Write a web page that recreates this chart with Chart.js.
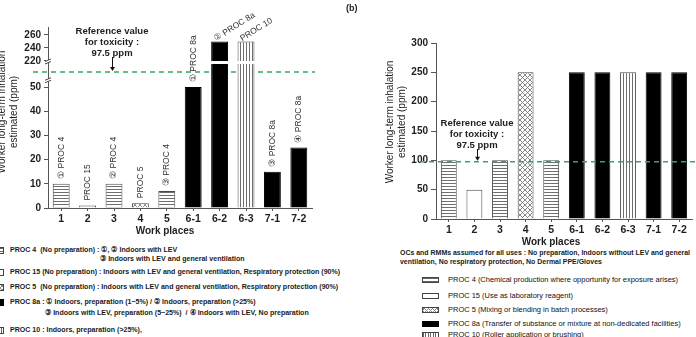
<!DOCTYPE html>
<html>
<head>
<meta charset="utf-8">
<script src="https://cdn.jsdelivr.net/npm/chart.js@4.4.0/dist/chart.umd.min.js"></script>
<style>
  body { margin: 0; width: 696px; height: 337px; overflow: hidden; background: #fff; position: relative;
         font-family: 'Liberation Sans', Arial, sans-serif; }
  canvas { position: absolute; top: 0; }
  #chartA { left: 0; }
  #chartB { left: 350px; }
  .row { position: absolute; white-space: pre; color: #1a1a1a; line-height: 10px; height: 10px; transform-origin: 0 50%; }
  .legA { font-size: 8px; font-weight: bold; }
  .noteB { font-size: 7.5px; font-weight: bold; }
  .legB { font-size: 7.5px; color: #111; }
  .sw { position: absolute; box-sizing: border-box; border: 1px solid #444; background: #fff; }
  .p4 { background: repeating-linear-gradient(to bottom, #666 0 1px, #fff 1px 2.5px); }
  .p15 { background: #fff; }
  .p5 { background-color: #fff;
        background-image: repeating-linear-gradient(45deg, #888 0 0.8px, transparent 0.8px 3px), repeating-linear-gradient(-45deg, #888 0 0.8px, transparent 0.8px 3px); }
  .p8a { background: #000; border-color: #000; }
  .p10 { background: repeating-linear-gradient(to right, #666 0 1px, #fff 1px 2.5px); }
  #tagB { position: absolute; left: 346px; top: 3px; font-size: 9px; font-weight: bold; color: #222; }
</style>
</head>
<body>
<canvas id="chartA" width="350" height="240"></canvas>
<canvas id="chartB" width="346" height="248"></canvas>
<div id="tagB">(b)</div>
<div id="legends"></div>

<script>
// ---- data ----
const categories = ['1', '2', '3', '4', '5', '6-1', '6-2', '6-3', '7-1', '7-2'];
const exposureA = [10, 1, 10, 2, 7, 50, 250, 250, 15, 25];
const exposureB = [100, 50, 100, 250, 100, 250, 250, 250, 250, 250];
const procOfBar = ['p4', 'p15', 'p4', 'p5', 'p4', 'p8a', 'p8a', 'p10', 'p8a', 'p8a'];
const barNotesA = ['① PROC 4', 'PROC 15', '② PROC 4', 'PROC 5', '③ PROC 4',
                   '① PROC 8a', '② PROC 8a', 'PROC 10', '③ PROC 8a', '④ PROC 8a'];
const ticksA = [0, 10, 20, 30, 40, 50, 220, 240, 260];
const ticksB = [0, 50, 100, 150, 200, 250, 300];
const referenceValue = 97.5;
const refText = ['Reference value', 'for toxicity :', '97.5 ppm'];
const yTitle = ['Worker long-term inhalation', 'estimated (ppm)'];
const xTitle = 'Work places';

const legendA = [
  ['p4', 'PROC 4  (No preparation) : ①, ② Indoors with LEV', '③ Indoors with LEV and general ventilation'],
  ['p15', 'PROC 15 (No preparation) : Indoors with LEV and general ventilation, Respiratory protection (90%)'],
  ['p5', 'PROC 5  (No preparation) : Indoors with LEV and general ventilation, Respiratory protection (90%)'],
  ['p8a', 'PROC 8a : ① Indoors, preparation (1~5%) / ② Indoors, preparation (>25%)', '③ Indoors with LEV, preparation (5~25%)  / ④ Indoors with LEV, No preparation'],
  ['p10', 'PROC 10 : Indoors, preparation (>25%),']
];
const noteB = ['OCs and RMMs assumed for all uses : No preparation, Indoors without LEV and general',
               'ventilation, No respiratory protection, No Dermal PPE/Gloves'];
const legendB = [
  ['p4', 'PROC 4 (Chemical production where opportunity for exposure arises)'],
  ['p15', 'PROC 15 (Use as laboratory reagent)'],
  ['p5', 'PROC 5 (Mixing or blending in batch processes)'],
  ['p8a', 'PROC 8a (Transfer of substance or mixture at non-dedicated facilities)'],
  ['p10', 'PROC 10 (Roller application or brushing)']
];

// broken axis for panel (a): value knots -> fraction of axis height
const knotValues = [0, 50, 97.5, 220, 272];
const knotDecimals = [0, 0.6685, 0.7514, 0.8122, 1];
const axisBreaks = [73, 220];

const FONT = "'Liberation Sans', Arial, sans-serif";
const INK = '#1e1e1e';
const GREEN = '#33a864';

function interp(v, xs, ys) {
  if (v <= xs[0]) return ys[0];
  for (let i = 1; i < xs.length; i++) {
    if (v <= xs[i]) {
      return ys[i - 1] + (v - xs[i - 1]) / (xs[i] - xs[i - 1]) * (ys[i] - ys[i - 1]);
    }
  }
  return ys[ys.length - 1];
}

class BrokenScale extends Chart.LinearScale {
  getPixelForValue(value) {
    return this.getPixelForDecimal(interp(value, knotValues, knotDecimals));
  }
  getValueForPixel(pixel) {
    return interp(this.getDecimalForPixel(pixel), knotDecimals, knotValues);
  }
}
BrokenScale.id = 'broken';
BrokenScale.defaults = {};
Chart.register(BrokenScale);

/**
 * Fill patterns for the PROC categories
 */
function makePattern(kind) {
  if (kind === 'p8a') return '#000';
  if (kind === 'p15') return '#fff';
  const c = document.createElement('canvas');
  const g = c.getContext('2d');
  if (kind === 'p4') {
    c.width = 4; c.height = 3;
    g.fillStyle = '#fff'; g.fillRect(0, 0, 4, 3);
    g.fillStyle = '#6e6e6e'; g.fillRect(0, 0, 4, 1);
  } else if (kind === 'p10') {
    c.width = 3; c.height = 4;
    g.fillStyle = '#fff'; g.fillRect(0, 0, 3, 4);
    g.fillStyle = '#6e6e6e'; g.fillRect(0, 0, 1, 4);
  } else if (kind === 'p5') {
    c.width = 5; c.height = 5;
    g.fillStyle = '#fff'; g.fillRect(0, 0, 5, 5);
    g.strokeStyle = '#7a7a7a'; g.lineWidth = 0.9;
    g.beginPath();
    g.moveTo(0, 0); g.lineTo(5, 5);
    g.moveTo(5, 0); g.lineTo(0, 5);
    g.stroke();
  }
  return g.createPattern(c, 'repeat');
}

const fills = {};
['p4', 'p15', 'p5', 'p8a', 'p10'].forEach(k => { fills[k] = makePattern(k); });
const barFill = procOfBar.map(k => fills[k]);
const barEdge = procOfBar.map(k => k === 'p8a' ? '#000' : '#4a4a4a');

function refLabel(ctx, x, yTop, yLine) {
  ctx.save();
  ctx.fillStyle = INK;
  ctx.font = 'bold 9.5px ' + FONT;
  ctx.textAlign = 'center';
  ctx.textBaseline = 'middle';
  refText.forEach((t, i) => ctx.fillText(t, x, yTop + i * 11));
  const a0 = yTop + 26, a1 = yLine - 1;
  ctx.strokeStyle = '#111';
  ctx.lineWidth = 1;
  ctx.beginPath();
  ctx.moveTo(x + 0.5, a0);
  ctx.lineTo(x + 0.5, a1 - 3);
  ctx.stroke();
  ctx.fillStyle = '#111';
  ctx.beginPath();
  ctx.moveTo(x - 2, a1 - 4);
  ctx.lineTo(x + 3, a1 - 4);
  ctx.lineTo(x + 0.5, a1);
  ctx.closePath();
  ctx.fill();
  ctx.restore();
}

function dashedRef(ctx, x0, x1, y) {
  ctx.save();
  ctx.strokeStyle = GREEN;
  ctx.lineWidth = 1.5;
  ctx.setLineDash([5, 4]);
  ctx.beginPath();
  ctx.moveTo(x0, y);
  ctx.lineTo(x1, y);
  ctx.stroke();
  ctx.restore();
}

function drawYTitle(ctx, x1, x2, yc) {
  ctx.save();
  ctx.fillStyle = INK;
  ctx.font = '10px ' + FONT;
  ctx.textAlign = 'center';
  ctx.textBaseline = 'middle';
  [x1, x2].forEach((x, i) => {
    ctx.save();
    ctx.translate(x, yc);
    ctx.rotate(-Math.PI / 2);
    ctx.fillText(yTitle[i], 0, 0);
    ctx.restore();
  });
  ctx.restore();
}

function drawXTitle(ctx, x, y) {
  ctx.save();
  ctx.fillStyle = INK;
  ctx.font = 'bold 10px ' + FONT;
  ctx.textAlign = 'center';
  ctx.textBaseline = 'middle';
  ctx.fillText(xTitle, x, y);
  ctx.restore();
}

// ---- panel (a) decorations ----
const decorA = {
  id: 'decorA',
  beforeDatasetsDraw(chart) {
    const y = chart.scales.y, area = chart.chartArea;
    dashedRef(chart.ctx, area.left - 15, area.right + 3, y.getPixelForValue(referenceValue));
  },
  afterDatasetsDraw(chart) {
    const ctx = chart.ctx, y = chart.scales.y, area = chart.chartArea;
    const bars = chart.getDatasetMeta(0).data;
    const gapY = y.getPixelForValue(220);

    // white break band through the tall bars
    ctx.save();
    ctx.fillStyle = '#fff';
    bars.forEach((b, i) => {
      if (exposureA[i] > 220) ctx.fillRect(b.x - b.width / 2 - 1, gapY, b.width + 2, 3);
    });
    ctx.restore();

    // axis break marks
    ctx.save();
    axisBreaks.forEach(v => {
      const by = y.getPixelForValue(v);
      const ax = area.left;
      ctx.fillStyle = '#fff';
      ctx.fillRect(ax - 2, by - 1, 4, 3);
      ctx.strokeStyle = '#444';
      ctx.lineWidth = 1;
      ctx.beginPath();
      ctx.moveTo(ax - 3, by + 0.5); ctx.lineTo(ax + 3, by - 2);
      ctx.moveTo(ax - 3, by + 3); ctx.lineTo(ax + 3, by + 0.5);
      ctx.stroke();
    });
    ctx.restore();

    // notes above bars
    ctx.save();
    ctx.fillStyle = '#333';
    ctx.font = '8.5px ' + FONT;
    ctx.textBaseline = 'middle';
    ctx.textAlign = 'left';
    bars.forEach((b, i) => {
      ctx.save();
      if (exposureA[i] > 200) {
        ctx.translate(b.x - 5, b.y - 2);
        ctx.rotate(-32 * Math.PI / 180);
      } else {
        ctx.translate(b.x, b.y - 5);
        ctx.rotate(-Math.PI / 2);
      }
      ctx.fillText(barNotesA[i], 0, 0);
      ctx.restore();
    });
    ctx.restore();
  },
  afterDraw(chart) {
    const ctx = chart.ctx, y = chart.scales.y;
    refLabel(ctx, 112, 31, y.getPixelForValue(referenceValue));
    drawYTitle(ctx, 2, 14, 112);
    drawXTitle(ctx, 165, 231);
  }
};

// ---- panel (b) decorations ----
const decorB = {
  id: 'decorB',
  afterDatasetsDraw(chart) {
    const y = chart.scales.y, area = chart.chartArea;
    dashedRef(chart.ctx, area.left - 16, chart.width, y.getPixelForValue(referenceValue));
  },
  afterDraw(chart) {
    const ctx = chart.ctx, y = chart.scales.y;
    refLabel(ctx, 127, 123, y.getPixelForValue(referenceValue));
    drawYTitle(ctx, 40, 52, 122);
    drawXTitle(ctx, 201, 242);
  }
};

function axisX(height) {
  return {
    grid: { display: true, drawOnChartArea: false, offset: false, tickLength: 3, color: '#555' },
    border: { color: '#555' },
    ticks: { color: INK, font: { family: FONT, size: 10.5, weight: 'bold' }, padding: 2, maxRotation: 0, autoSkip: false },
    afterFit(scale) { scale.height = height; }
  };
}

function axisY(width, tickLen, extra) {
  return Object.assign({
    grid: { drawOnChartArea: false, tickLength: tickLen, color: '#555' },
    border: { color: '#555' },
    ticks: { color: INK, font: { family: FONT, size: 10, weight: 'bold' }, padding: 3, autoSkip: false },
    afterFit(scale) { scale.width = width; }
  }, extra);
}

function baseOptions(padding, xs, ys) {
  return {
    responsive: false,
    animation: false,
    layout: { padding: padding },
    plugins: { legend: { display: false }, tooltip: { enabled: false } },
    scales: { x: xs, y: ys }
  };
}

new Chart(document.getElementById('chartA').getContext('2d'), {
  type: 'bar',
  data: {
    labels: categories,
    datasets: [{
      data: exposureA,
      backgroundColor: barFill,
      borderColor: barEdge,
      borderWidth: 1,
      barPercentage: 0.64,
      categoryPercentage: 1
    }]
  },
  options: baseOptions(
    { top: 27, right: 38, left: 0, bottom: 0 },
    axisX(32),
    axisY(48, 4, {
      type: 'broken',
      min: 0,
      max: 272,
      afterBuildTicks(scale) { scale.ticks = ticksA.map(v => ({ value: v })); }
    })
  ),
  plugins: [decorA]
});

new Chart(document.getElementById('chartB').getContext('2d'), {
  type: 'bar',
  data: {
    labels: categories,
    datasets: [{
      data: exposureB,
      backgroundColor: barFill,
      borderColor: barEdge,
      borderWidth: 1,
      barPercentage: 0.62,
      categoryPercentage: 1
    }]
  },
  options: baseOptions(
    { top: 43, right: 4, left: 0, bottom: 0 },
    axisX(29),
    axisY(86, 5, {
      min: 0,
      max: 300,
      afterBuildTicks(scale) { scale.ticks = ticksB.map(v => ({ value: v })); }
    })
  ),
  plugins: [decorB]
});

// ---- legends (HTML) ----
const host = document.getElementById('legends');

function addRow(cls, text, x, yc) {
  const d = document.createElement('div');
  d.className = 'row ' + cls;
  d.textContent = text;
  d.style.left = x + 'px';
  d.style.top = (yc - 5) + 'px';
  host.appendChild(d);
  return d;
}

function addSwatch(kind, x, yc, w, h) {
  const s = document.createElement('div');
  s.className = 'sw ' + kind;
  s.style.left = x + 'px';
  s.style.top = (yc - h / 2) + 'px';
  s.style.width = w + 'px';
  s.style.height = h + 'px';
  host.appendChild(s);
}

// squeeze a group of rows so a reference row gets the width seen in the figure
function fitRows(rows, ref, target) {
  const k = target / ref.getBoundingClientRect().width;
  rows.forEach(r => { r.style.transform = 'scaleX(' + k.toFixed(3) + ')'; });
}

const rowsA = [];
const legAy = [[250, 259], [272], [287], [302, 313], [330]];
legendA.forEach((item, i) => {
  addSwatch(item[0], -12, legAy[i][0], 16, 7);
  rowsA.push(addRow('legA', item[1], 10, legAy[i][0]));
  if (item[2]) rowsA.push(addRow('legA', item[2], i === 0 ? 100 : 45, legAy[i][1]));
});
fitRows(rowsA, rowsA[2], 330);

const rowsNote = noteB.map((t, i) => addRow('noteB', t, 400, 253 + i * 9));
fitRows(rowsNote, rowsNote[0], 290);

const rowsB = [];
const legBy = [280, 296, 310, 324, 335];
legendB.forEach((item, i) => {
  addSwatch(item[0], 422, legBy[i], 17, 6);
  rowsB.push(addRow('legB', item[1], 448, legBy[i]));
});
fitRows(rowsB, rowsB[0], 230);
</script>
</body>
</html>
